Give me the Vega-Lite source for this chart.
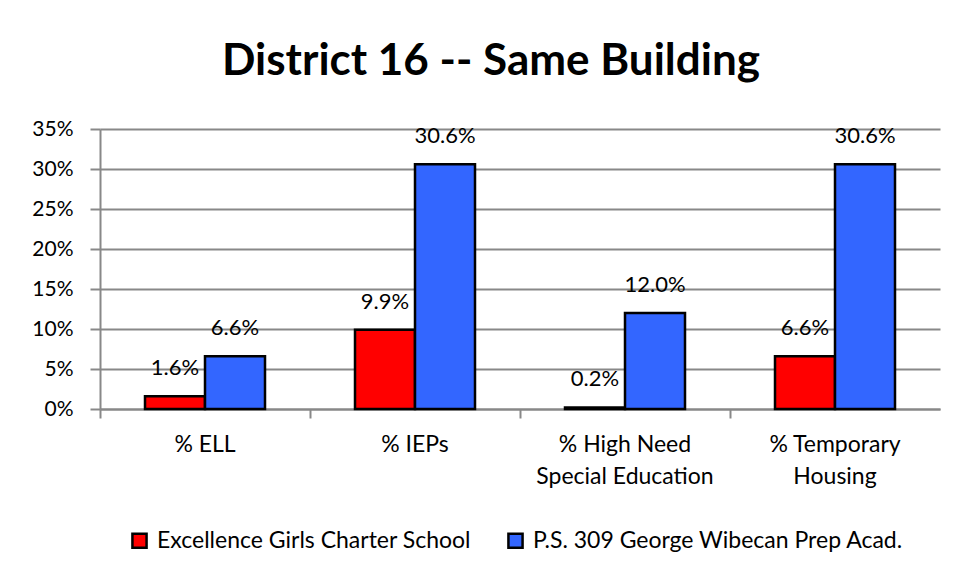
{
  "$schema": "https://vega.github.io/schema/vega-lite/v6.json",
  "width": 840,
  "height": 280,
  "autosize": {"type": "none"},
  "padding": {"left": 100, "top": 129, "right": 22, "bottom": 173},
  "background": "white",
  "config": {
    "font": "Lato",
    "view": {"stroke": null},
    "axis": {"labelFont": "Lato", "labelFontSize": 20, "labelColor": "#000000"}
  },
  "title": {
    "text": "District 16 -- Same Building",
    "font": "Lato",
    "fontSize": 44,
    "fontWeight": "bold",
    "color": "#000000",
    "anchor": "middle",
    "dx": -29,
    "offset": 34
  },
  "data": {
    "values": [
      {"category": "% ELL", "school": "Excellence Girls Charter School", "value": 0.016},
      {"category": "% ELL", "school": "P.S. 309 George Wibecan Prep Acad.", "value": 0.066},
      {"category": "% IEPs", "school": "Excellence Girls Charter School", "value": 0.099},
      {"category": "% IEPs", "school": "P.S. 309 George Wibecan Prep Acad.", "value": 0.306},
      {"category": "% High Need Special Education", "school": "Excellence Girls Charter School", "value": 0.002},
      {"category": "% High Need Special Education", "school": "P.S. 309 George Wibecan Prep Acad.", "value": 0.120},
      {"category": "% Temporary Housing", "school": "Excellence Girls Charter School", "value": 0.066},
      {"category": "% Temporary Housing", "school": "P.S. 309 George Wibecan Prep Acad.", "value": 0.306}
    ]
  },
  "encoding": {
    "y": {
      "field": "value", "type": "quantitative",
      "scale": {"domain": [0, 0.35]},
      "axis": {
        "title": null, "format": ".0%", "values": [0, 0.05, 0.1, 0.15, 0.2, 0.25, 0.3, 0.35],
        "labelOverlap": false,
        "gridColor": "#888888", "gridWidth": 2,
        "domainColor": "#888888", "domainWidth": 2,
        "tickColor": "#888888", "tickWidth": 2, "tickSize": 10,
        "labelPadding": 17, "labelFontSize": 21
      }
    },
    "xOffset": {
      "field": "school", "type": "nominal",
      "scale": {"paddingInner": 0, "paddingOuter": 0.75}
    }
  },
  "resolve": {"axis": {"x": "independent"}},
  "layer": [
    {
      "mark": {"type": "bar", "stroke": "#000000", "strokeWidth": 2.5},
      "encoding": {
        "x": {
          "field": "category", "type": "nominal", "sort": null,
          "scale": {"paddingInner": 0, "paddingOuter": 0},
          "axis": {
            "title": null, "labelAngle": 0, "ticks": false, "orient": "bottom",
            "domainColor": "#888888", "domainWidth": 2,
            "labelPadding": 24, "labelBaseline": "top", "labelLineHeight": 32, "labelFontSize": 23,
            "labelExpr": "datum.label == '% High Need Special Education' ? ['% High Need','Special Education'] : datum.label == '% Temporary Housing' ? ['% Temporary','Housing'] : datum.label"
          }
        },
        "color": {
          "field": "school", "type": "nominal",
          "scale": {"range": ["#FF0000", "#3366FF"]},
          "legend": {
            "title": null, "orient": "none", "legendX": 28, "legendY": 400,
            "direction": "horizontal", "columns": 2, "columnPadding": 32,
            "symbolType": "square", "symbolSize": 200, "symbolStrokeColor": "#000000",
            "symbolStrokeWidth": 2.5, "symbolOpacity": 1,
            "labelFont": "Lato", "labelFontSize": 23, "labelColor": "#000000", "labelOffset": 6, "labelLimit": 500
          }
        }
      }
    },
    {
      "mark": {"type": "text", "baseline": "bottom", "dy": -16, "fontSize": 22, "font": "Lato", "color": "#000000"},
      "encoding": {
        "x": {
          "field": "category", "type": "nominal", "sort": null,
          "axis": {
            "title": null, "labels": false, "domain": false, "grid": false, "orient": "bottom",
            "ticks": true, "bandPosition": 0, "tickColor": "#888888", "tickWidth": 2, "tickSize": 9
          }
        },
        "text": {"field": "value", "type": "quantitative", "format": ".1%"}
      }
    }
  ]
}
